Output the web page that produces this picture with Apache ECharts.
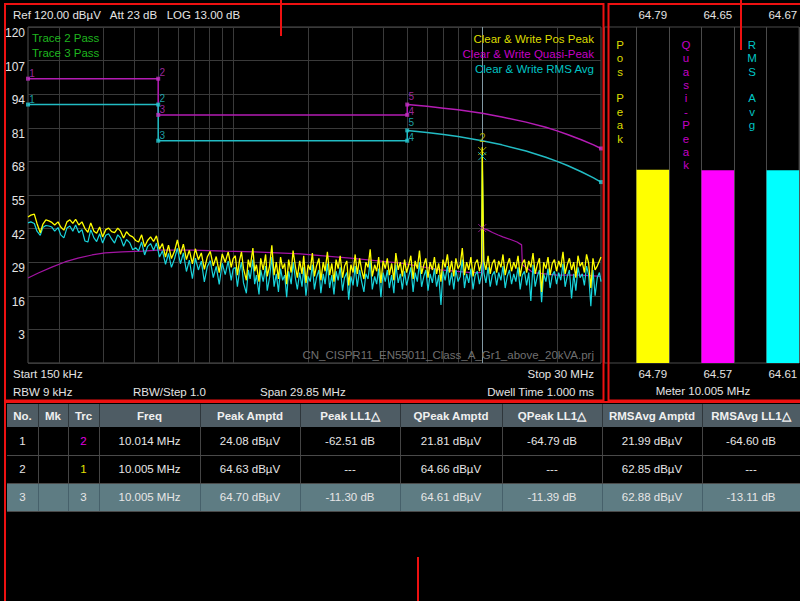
<!DOCTYPE html>
<html><head><meta charset="utf-8">
<script src="https://cdn.jsdelivr.net/npm/echarts@6/dist/echarts.min.js"></script>
<style>html,body{margin:0;padding:0;background:#000;}#c{width:800px;height:601px;}</style>
</head><body><div id="c"></div>
<script>
// ---------- DATA ----------
const sweepLowMHz = [
0.150,0.154,0.159,0.163,0.168,0.172,0.177,0.182,0.187,0.192,
0.198,0.203,0.209,0.215,0.221,0.227,0.233,0.240,0.247,0.254,
0.261,0.268,0.276,0.283,0.291,0.299,0.308,0.316,0.325,0.334,
0.344,0.353,0.363,0.373,0.384,0.395,0.406,0.417,0.429,0.441,
0.453,0.466,0.479,0.492,0.506,0.520,0.535,0.550,0.565,0.581,
0.597,0.614,0.631,0.649,0.667,0.686,0.705,0.725,0.745,0.766,
0.787,0.809,0.832,0.855,0.879,0.904,0.929,0.955,0.982,1.000];
const sweepHighMHz = [
1.02,1.04,1.06,1.08,1.10,1.13,1.15,1.17,1.20,1.22,
1.24,1.27,1.29,1.32,1.35,1.37,1.40,1.43,1.46,1.49,
1.52,1.55,1.58,1.61,1.64,1.67,1.71,1.74,1.78,1.81,
1.85,1.89,1.92,1.96,2.00,2.04,2.08,2.12,2.16,2.21,
2.25,2.30,2.34,2.39,2.44,2.49,2.54,2.59,2.64,2.69,
2.75,2.80,2.86,2.91,2.97,3.03,3.09,3.15,3.22,3.28,
3.35,3.41,3.48,3.55,3.62,3.70,3.77,3.84,3.92,4.00,
4.08,4.16,4.24,4.33,4.42,4.50,4.60,4.69,4.78,4.88,
4.97,5.07,5.17,5.28,5.38,5.49,5.60,5.71,5.83,5.94,
6.06,6.18,6.31,6.43,6.56,6.69,6.83,6.96,7.10,7.25,
7.39,7.54,7.69,7.84,8.00,8.16,8.32,8.49,8.66,8.83,
9.01,9.19,9.37,9.56,9.75,9.95,10.005,10.15,10.35,10.56,
10.77,10.98,11.20,11.43,11.65,11.89,12.12,12.37,12.61,12.87,
13.12,13.39,13.65,13.93,14.21,14.49,14.78,15.08,15.38,15.68,
16.00,16.32,16.64,16.98,17.32,17.66,18.02,18.38,18.74,19.12,
19.50,19.89,20.29,20.69,21.11,21.53,21.96,22.40,22.85,23.31,
23.77,24.25,24.73,25.23,25.73,26.25,26.77,27.31,27.85,28.41,
28.98,29.56,30.00];
const peakLow = [
46.5,47.2,47.6,44.0,40.4,43.6,45.4,45.0,44.4,43.4,
44.6,42.6,41.4,44.6,45.4,44.0,45.6,43.4,44.6,42.0,
40.6,44.2,41.0,40.2,42.6,38.8,41.6,42.2,40.8,40.4,
42.2,41.0,38.4,40.8,39.4,38.8,37.4,36.8,39.6,35.0,
37.4,38.8,37.0,39.2,34.0,36.2,31.0,35.6,30.4,33.2,
37.6,32.0,36.0,30.0,33.6,28.4,34.2,30.0,32.6,26.2,
31.0,33.2,27.6,31.2,25.0,32.2,29.0,33.0,27.0,30.4];
const peakHigh = [
31.5,24.0,29.5,33.0,26.5,22.0,30.0,27.0,34.5,25.5,
28.0,21.5,30.5,26.0,32.0,23.5,27.5,35.5,24.0,29.0,
22.5,31.0,26.5,28.5,20.5,30.0,25.0,33.5,27.0,23.0,
29.5,24.5,31.5,21.0,28.0,26.0,32.5,23.5,27.5,30.5,
22.0,29.0,25.5,33.0,24.0,28.5,21.5,30.0,26.5,31.5,
23.0,27.5,29.5,20.0,28.0,25.0,32.0,24.5,30.5,26.0,
22.5,29.0,27.0,34.0,23.5,28.0,25.5,31.0,21.0,29.5,
26.5,30.5,24.0,28.5,22.0,32.5,26.0,29.0,23.5,30.0,
25.0,28.0,31.5,22.5,29.5,26.5,33.5,24.5,28.0,30.5,
23.0,29.0,26.0,31.0,24.5,28.5,21.5,30.0,27.0,32.0,
25.0,29.5,23.5,30.5,26.5,28.0,34.5,24.0,29.0,26.0,
31.0,23.5,28.5,30.0,25.5,29.0,73.5,29.5,26.0,31.5,
24.5,28.5,30.0,25.0,29.5,27.0,32.0,24.0,28.0,30.5,
25.5,29.0,26.5,31.5,23.5,28.5,30.0,25.0,29.5,27.0,
32.5,24.5,28.0,30.5,17.5,29.0,26.5,31.0,24.0,28.5,
30.0,25.5,29.5,27.0,33.0,24.5,28.0,30.5,26.0,29.0,
23.0,31.5,27.5,29.0,25.0,32.0,28.5,19.0,30.5,26.0,
27.5,29.5,31.0];
const rmsLow = [
44.2,44.6,44.0,41.0,39.4,42.4,43.2,43.0,42.6,41.0,
42.4,39.6,38.4,42.2,43.0,41.0,43.4,40.4,41.6,37.2,
36.8,41.6,38.4,37.0,40.0,36.4,39.4,40.0,38.0,36.4,
39.6,38.4,35.2,37.8,36.6,33.8,34.6,33.4,36.8,31.8,
35.0,36.2,33.6,36.4,31.0,33.4,28.2,32.4,27.0,30.2,
34.4,28.4,32.6,25.4,29.8,22.6,30.6,26.0,29.4,21.4,
27.2,29.6,23.0,27.4,20.4,28.6,24.2,29.4,22.0,26.4];
const rmsHigh = [
27.0,19.5,25.5,29.0,21.0,17.0,26.0,22.5,30.0,20.5,
24.0,16.5,26.0,21.5,27.5,18.0,23.0,31.0,19.5,24.5,
17.5,26.5,22.0,24.0,15.5,25.5,20.5,29.0,22.5,18.5,
25.0,19.5,27.0,16.0,23.5,21.5,28.0,18.5,23.0,26.0,
17.0,24.5,20.5,28.5,19.0,24.0,16.5,25.5,22.0,27.0,
18.0,23.0,25.0,14.5,23.5,20.0,27.5,19.5,26.0,21.5,
17.5,24.5,22.5,29.5,18.5,23.5,20.5,26.5,15.5,25.0,
21.5,26.0,19.0,24.0,17.0,28.0,21.0,24.5,18.5,25.5,
20.0,23.5,27.0,17.5,25.0,21.5,29.0,19.5,23.5,26.0,
18.0,24.5,21.0,26.5,19.5,24.0,12.5,25.5,22.0,27.5,
20.0,25.0,18.5,26.0,21.5,23.5,30.0,19.0,24.5,21.0,
26.5,18.5,24.0,25.5,20.5,24.5,70.0,25.0,21.0,27.0,
19.5,24.0,25.5,20.0,25.0,22.0,27.5,19.0,23.5,26.0,
20.5,24.5,21.5,27.0,18.5,24.0,25.5,20.0,25.0,14.0,
28.0,19.5,23.5,26.0,13.5,24.5,21.5,26.5,19.0,24.0,
25.5,20.5,25.0,22.0,28.5,19.5,23.5,26.0,15.0,24.5,
18.0,27.0,23.0,24.5,20.0,27.5,24.0,12.0,26.0,16.0,
23.0,25.0,21.5];
const qpMHz = [0.15,0.165,0.187,0.211,0.238,0.271,0.306,0.358,0.43,0.5,0.684,0.927,1.22,1.86,2.95,4.68,6.8,9.0,9.99,10.005,10.03,10.5,11.0,11.6,12.1,13.0,13.8,14.4,14.5,16,20,25,30];
const qpVal = [22.9,24.8,27.1,29.1,30.6,31.8,32.6,33.0,33.3,33.7,33.7,33.3,33.0,32.2,30.6,28.7,26.0,25.0,25.0,46.5,42.2,41.5,40.5,39.5,38.8,37.8,36.8,35.7,28.0,25.0,24.0,24.0,23.5];
const limitMHz = [0.15,0.5,0.5,5,5,6,7,8,10,12,15,18,20,22,25,28,30];
const qpLimitVal = [100,100,86,86,90,89.3,88.6,88.0,86.6,85.2,83.2,81.2,79.8,78.4,76.4,74.4,73];
const avLimitVal = [90,90,76,76,80,79.2,78.4,77.6,76,74.4,72,69.6,68,66.4,64,61.6,60];
const limitPtMHz = [0.15,0.5,0.5,5,5,30];
const qpLimitPtVal = [100,100,86,86,90,73];
const avLimitPtVal = [90,90,76,76,80,60];
const limitPtLabels = ['1','2','3','4','5',''];
const gridMHz = [0.2,0.3,0.4,0.5,0.6,0.7,0.8,0.9,1,2,3,4,5,6,7,8,9,10,20];
const markerMHz = 10.005;
const markerVals = [72.0, 70.0, 42.2];
const markerLabels = ['2','',''];
const meterNames = ['Pos Peak','Quasi-Peak','RMS Avg'];
const meterMax = ['64.79','64.65','64.67'];
const meterNow = [64.79,64.57,64.61];
const tableHead = ['No.','Mk','Trc','Freq','Peak Amptd','Peak LL1△','QPeak Amptd','QPeak LL1△','RMSAvg Amptd','RMSAvg LL1△'];
const tableRow1 = ['1','','2','10.014 MHz','24.08 dBµV','-62.51 dB','21.81 dBµV','-64.79 dB','21.99 dBµV','-64.60 dB'];
const tableRow2 = ['2','','1','10.005 MHz','64.63 dBµV','---','64.66 dBµV','---','62.85 dBµV','---'];
const tableRow3 = ['3','','3','10.005 MHz','64.70 dBµV','-11.30 dB','64.61 dBµV','-11.39 dB','62.88 dBµV','-13.11 dB'];

// ---------- BUILD ----------
const FF = '"Liberation Sans", Arial, sans-serif';
const F12 = '11.5px ' + FF;
const zip = (xs, ys) => xs.map((x, i) => [x, ys[i]]);
const sweep = sweepLowMHz.concat(sweepHighMHz);
const peak = peakLow.concat(peakHigh);
const rms = rmsLow.concat(rmsHigh);

const YEL = '#ffff00', CYN = '#18d4dc', MAG = '#a414a4';
const meterColors = ['#ffff00', '#ff00ff', '#00ffff'];

const g = [];
function txt(x, y, s, fill, align, font, extra) {
  g.push(Object.assign({type: 'text', x: x, y: y, silent: true, z: 100,
    style: {text: s, fill: fill, font: font || F12, align: align || 'left', verticalAlign: 'middle'}}, extra || {}));
}
// plot panel texts
txt(13, 15, 'Ref 120.00 dBµV   Att 23 dB   LOG 13.00 dB', '#e4e4e4');
txt(32, 38, 'Trace 2 Pass', '#1fb51f');
txt(32, 53, 'Trace 3 Pass', '#1fb51f');
txt(594, 39, 'Clear & Write Pos Peak', '#dcdc00', 'right');
txt(594, 54, 'Clear & Write Quasi-Peak', '#c400c4', 'right');
txt(594, 69, 'Clear & Write RMS Avg', '#00c4c4', 'right');
txt(594, 355, 'CN_CISPR11_EN55011_Class_A_Gr1_above_20kVA.prj', '#707070', 'right');
txt(13, 374, 'Start 150 kHz', '#e4e4e4');
txt(594, 374, 'Stop 30 MHz', '#e4e4e4', 'right');
txt(13, 392, 'RBW 9 kHz', '#e4e4e4');
txt(133, 392, 'RBW/Step 1.0', '#e4e4e4');
txt(260, 392, 'Span 29.85 MHz', '#e4e4e4');
txt(594, 392, 'Dwell Time 1.000 ms', '#e4e4e4', 'right');
// meter texts
const meterTxtX = [620, 686, 752];
const meterTxtCol = ['#dcdc00', '#c400c4', '#00c4c4'];
meterNames.forEach((n, i) => {
  g.push({type: 'text', x: meterTxtX[i], y: 38, silent: true, z: 100,
    style: {text: n.split('').join('\n'), fill: meterTxtCol[i], font: F12, align: 'center', verticalAlign: 'top', lineHeight: 13.4}});
});
txt(703, 391, 'Meter 10.005 MHz', '#e4e4e4', 'center');
// table
const colX = [7, 38, 68, 99, 200, 300, 400, 502, 602, 702, 800];
const rowY = [404, 427, 455, 483, 511];
g.push({type: 'rect', silent: true, z: 90, shape: {x: 7, y: 404, width: 793, height: 23}, style: {fill: '#4e5c64'}});
g.push({type: 'rect', silent: true, z: 90, shape: {x: 7, y: 483, width: 793, height: 28}, style: {fill: '#5e7c83'}});
colX.slice(1, -1).forEach(x => {
  g.push({type: 'line', silent: true, z: 91, shape: {x1: x + 0.5, y1: 404, x2: x + 0.5, y2: 427}, style: {stroke: '#2e363b', lineWidth: 1}});
  g.push({type: 'line', silent: true, z: 91, shape: {x1: x + 0.5, y1: 427, x2: x + 0.5, y2: 483}, style: {stroke: '#444', lineWidth: 1}});
  g.push({type: 'line', silent: true, z: 91, shape: {x1: x + 0.5, y1: 483, x2: x + 0.5, y2: 511}, style: {stroke: '#46606a', lineWidth: 1}});
});
[455, 483, 511].forEach(y => {
  g.push({type: 'line', silent: true, z: 91, shape: {x1: 7, y1: y + 0.5, x2: 800, y2: y + 0.5}, style: {stroke: '#4a4a4a', lineWidth: 1}});
});
const cx = i => (colX[i] + colX[i + 1]) / 2;
tableHead.forEach((s, i) => txt(cx(i), 416, s, '#f0f0f0', 'center', 'bold 11.5px ' + FF));
const trcCol = ['#e000e0', '#e0e000', '#e8e8e8'];
[tableRow1, tableRow2, tableRow3].forEach((row, r) => {
  const y = (rowY[r + 1] + rowY[r + 2]) / 2;
  row.forEach((s, i) => txt(cx(i), y, s, i === 2 ? trcCol[r] : '#e6e6e6', 'center'));
});
// red annotation frames
const RED = '#ee1111';
g.push({type: 'rect', silent: true, z: 200, shape: {x: 5, y: 4, width: 598.5, height: 396.5}, style: {fill: 'none', stroke: RED, lineWidth: 2}});
g.push({type: 'rect', silent: true, z: 200, shape: {x: 608.5, y: 4, width: 200, height: 396.5}, style: {fill: 'none', stroke: RED, lineWidth: 2}});
g.push({type: 'rect', silent: true, z: 200, shape: {x: 5, y: 402, width: 810, height: 220}, style: {fill: 'none', stroke: RED, lineWidth: 2}});
[[281, 0, 36], [741, 0, 50], [418, 557, 601]].forEach(l => {
  g.push({type: 'line', silent: true, z: 200, shape: {x1: l[0], y1: l[1], x2: l[0], y2: l[2]}, style: {stroke: RED, lineWidth: 2}});
});

const lineS = (name, data, color, w, z) => ({type: 'line', name: name, data: data, symbol: 'none', z: z,
  lineStyle: {color: color, width: w}, itemStyle: {color: color}, silent: true, animation: false});
const labelDy = [-5, -6, -5, -3, -8, 0];
const ptS = (data, color) => ({type: 'scatter', symbol: 'rect', symbolSize: 4, z: 6, silent: true,
  itemStyle: {color: color},
  data: data.map((d, i) => ({value: d, label: {offset: [4, labelDy[i]]}})),
  label: {show: true, position: 'inside', color: color, fontSize: 10, fontFamily: FF,
    formatter: p => limitPtLabels[p.dataIndex]}});

const option = {
  backgroundColor: '#000',
  animation: false,
  textStyle: {fontFamily: FF},
  grid: [
    {left: 28, top: 27, width: 573, height: 336, show: true, borderColor: '#505050', borderWidth: 1},
    {left: 604, top: 27, width: 198, height: 336, show: true, borderColor: '#4a4a4a', borderWidth: 1}
  ],
  xAxis: [
    {type: 'log', logBase: 10, min: 0.15, max: 30, gridIndex: 0,
      axisLine: {show: false}, axisTick: {show: false}, axisLabel: {show: false}, splitLine: {show: false}},
    {type: 'category', gridIndex: 1, data: ['a','b','c','d','e','f'], boundaryGap: true,
      axisLine: {show: false}, axisTick: {show: false},
      axisLabel: {interval: 0, margin: 5, color: '#e4e4e4', fontSize: 11.5, formatter: (v, i) => i % 2 ? meterNow[(i - 1) / 2].toFixed(2) : ''},
      splitLine: {show: true, interval: 0, lineStyle: {color: '#4a4a4a'}}},
    {type: 'category', gridIndex: 1, position: 'top', data: ['a','b','c','d','e','f'], boundaryGap: true,
      axisLine: {show: false}, axisTick: {show: false},
      axisLabel: {interval: 0, margin: 6, color: '#e4e4e4', fontSize: 11.5, formatter: (v, i) => i % 2 ? meterMax[(i - 1) / 2] : ''},
      splitLine: {show: false}}
  ],
  yAxis: [
    {type: 'value', gridIndex: 0, min: -10, max: 120, interval: 13,
      axisLine: {show: false}, axisTick: {show: false},
      axisLabel: {color: '#e4e4e4', fontSize: 12, margin: 3, verticalAlign: 'top', showMinLabel: false},
      splitLine: {lineStyle: {color: '#3a3a3a'}}},
    {type: 'value', gridIndex: 1, min: -10, max: 120, show: false, splitLine: {show: false}}
  ],
  series: [
    {type: 'line', data: [], silent: true, z: 1,
      markLine: {silent: true, symbol: 'none', z: 1, animation: false, label: {show: false},
        lineStyle: {color: '#3a3a3a', width: 1, type: 'solid'},
        data: gridMHz.map(f => ({xAxis: f})).concat([{xAxis: markerMHz, lineStyle: {color: '#8299a4', width: 1, type: 'solid'}}])}},
    lineS('Clear & Write Quasi-Peak', zip(qpMHz, qpVal), MAG, 1.2, 2),
    lineS('Clear & Write RMS Avg', zip(sweep, rms), CYN, 1.2, 3),
    lineS('Clear & Write Pos Peak', zip(sweep, peak), YEL, 1.3, 4),
    lineS('QP limit', zip(limitMHz, qpLimitVal), '#b41cb4', 1.5, 5),
    lineS('AV limit', zip(limitMHz, avLimitVal), '#22bcc4', 1.5, 5),
    ptS(zip(limitPtMHz, qpLimitPtVal), '#c232c2'),
    ptS(zip(limitPtMHz, avLimitPtVal), '#26c6ce'),
    {type: 'scatter', z: 7, silent: true,
      symbol: 'path://M0,0L10,10M10,0L0,10', symbolSize: 8,
      data: markerVals.map((v, i) => ({value: [markerMHz, v],
        itemStyle: {color: 'none', borderColor: ['#d8d800', '#18d4dc', '#b01cb0'][i], borderWidth: 1}})),
      label: {show: true, position: 'top', distance: 1, color: '#c8c800', fontSize: 12, formatter: p => markerLabels[p.dataIndex]}},
    {type: 'custom', xAxisIndex: 1, yAxisIndex: 1, silent: true,
      data: meterNow.map((v, i) => [2 * i + 1, v]),
      renderItem: (params, api) => {
        const c = api.value(0), v = api.value(1);
        const p1 = api.coord([c, v]), p0 = api.coord([c, -10]);
        const w = api.size([1, 0])[0];
        return {type: 'rect', shape: {x: p1[0] - w / 2, y: p1[1], width: w, height: p0[1] - p1[1]},
          style: {fill: meterColors[params.dataIndex]}};
      }}
  ],
  graphic: g
};
const chart = echarts.init(document.getElementById('c'), null, {renderer: 'svg'});
chart.setOption(option);
</script></body></html>
